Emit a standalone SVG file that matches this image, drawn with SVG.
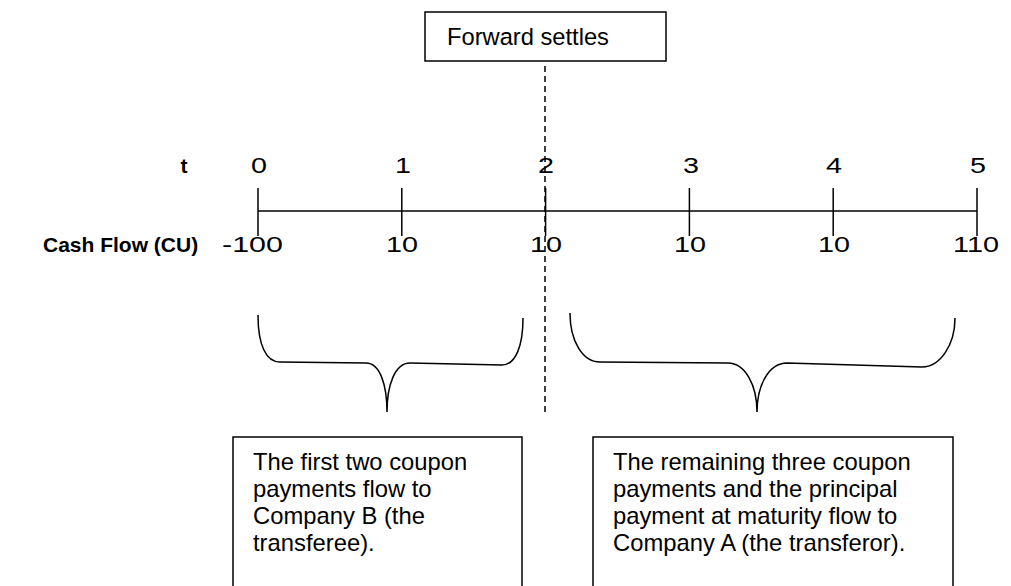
<svg xmlns="http://www.w3.org/2000/svg" width="1011" height="586" viewBox="0 0 1011 586">
<style>
text{font-family:"Liberation Sans",Arial,sans-serif;fill:#000}
.lbl{font-size:21px}
.num{font-size:22px}
.b{font-weight:bold}
.box{fill:#fff;stroke:#000;stroke-width:1.5}
.ln{stroke:#000;stroke-width:1.5;fill:none}
.dash{stroke:#000;stroke-width:1.5;stroke-dasharray:6 4;fill:none}
.note{font-size:23.8px}
</style>
<rect width="1011" height="586" fill="#fff"/>
<g id="connectors">
<line class="ln" x1="258" y1="211" x2="977" y2="211"/>
<line class="ln" x1="258" y1="188" x2="258" y2="236"/>
<line class="ln" x1="401.8" y1="188" x2="401.8" y2="236"/>
<line class="ln" x1="545.6" y1="188" x2="545.6" y2="236"/>
<line class="ln" x1="689.4" y1="188" x2="689.4" y2="236"/>
<line class="ln" x1="833.2" y1="188" x2="833.2" y2="236"/>
<line class="ln" x1="977" y1="188" x2="977" y2="236"/>
<line class="dash" x1="545" y1="66" x2="545" y2="416"/>
<path class="ln" d="M258,315 C258,345 266,362 280,362 L366,363 C380,363 387,385 387,412 C387,385 395,363 410,363 L502,365 C516,365 523,345 523,318"/>
<path class="ln" d="M570,313 C570,340 582,362 600,362 L728,363 C745,363 757,385 757,412 C757,385 769,363 787,363 L922,367 C940,367 955,345 955,318"/>
</g>
<g id="forward">
<rect class="box" x="425" y="12" width="241" height="49"/>
<text x="447" y="45" style="font-size:23.7px">Forward settles</text>
</g>
<g id="axis-labels">
<text class="lbl b" x="184" y="173" text-anchor="middle">t</text>
<text class="num" x="259" y="173" text-anchor="middle" textLength="16" lengthAdjust="spacingAndGlyphs">0</text>
<text class="num" x="403" y="173" text-anchor="middle" textLength="16" lengthAdjust="spacingAndGlyphs">1</text>
<text class="num" x="546" y="173" text-anchor="middle" textLength="16" lengthAdjust="spacingAndGlyphs">2</text>
<text class="num" x="691" y="173" text-anchor="middle" textLength="16" lengthAdjust="spacingAndGlyphs">3</text>
<text class="num" x="834" y="173" text-anchor="middle" textLength="16" lengthAdjust="spacingAndGlyphs">4</text>
<text class="num" x="978" y="173" text-anchor="middle" textLength="16" lengthAdjust="spacingAndGlyphs">5</text>
<text class="lbl b" x="43" y="252">Cash Flow (CU)</text>
<text class="num" x="222" y="252" textLength="61" lengthAdjust="spacingAndGlyphs">-100</text>
<text class="num" x="402" y="252" text-anchor="middle" textLength="32" lengthAdjust="spacingAndGlyphs">10</text>
<text class="num" x="546" y="252" text-anchor="middle" textLength="32" lengthAdjust="spacingAndGlyphs">10</text>
<text class="num" x="690" y="252" text-anchor="middle" textLength="32" lengthAdjust="spacingAndGlyphs">10</text>
<text class="num" x="834" y="252" text-anchor="middle" textLength="32" lengthAdjust="spacingAndGlyphs">10</text>
<text class="num" x="976" y="252" text-anchor="middle" textLength="46" lengthAdjust="spacingAndGlyphs">110</text>
</g>
<g id="note-b">
<rect class="box" x="233" y="437" width="289" height="160"/>
<text class="note" x="253" y="470">The first two coupon</text>
<text class="note" x="253" y="497">payments flow to</text>
<text class="note" x="253" y="524">Company B (the</text>
<text class="note" x="253" y="551">transferee).</text>
</g>
<g id="note-a">
<rect class="box" x="593" y="437" width="360" height="160"/>
<text class="note" x="613" y="470">The remaining three coupon</text>
<text class="note" x="613" y="497">payments and the principal</text>
<text class="note" x="613" y="524">payment at maturity flow to</text>
<text class="note" x="613" y="551">Company A (the transferor).</text>
</g>
</svg>
